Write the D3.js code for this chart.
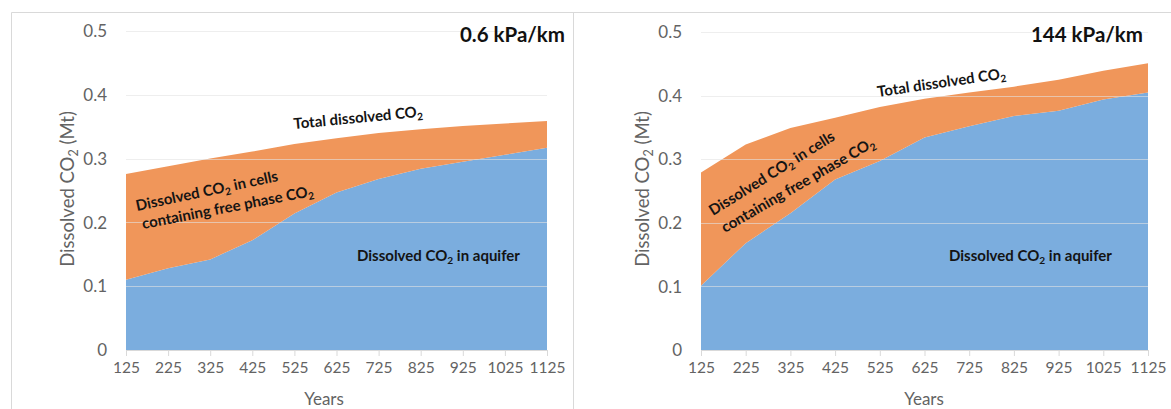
<!DOCTYPE html>
<html>
<head>
<meta charset="utf-8">
<script src="https://cdn.jsdelivr.net/npm/d3@7"></script>
<style>
  html, body { margin: 0; padding: 0; background: #fff; }
  svg { display: block; }
  text { font-family: Lato, "Open Sans", sans-serif; }
</style>
</head>
<body>
<svg id="chart" width="1171" height="409"></svg>
<script>
// Simulation years (x categories)
const years = [125, 225, 325, 425, 525, 625, 725, 825, 925, 1025, 1125];

// 0.6 kPa/km gradient: dissolved CO2 (Mt)
const aquiferLow = [0.110, 0.128, 0.142, 0.172, 0.214, 0.247, 0.268, 0.284, 0.295, 0.306, 0.317];
const totalLow   = [0.276, 0.288, 0.300, 0.311, 0.323, 0.332, 0.340, 0.346, 0.351, 0.355, 0.359];

// 144 kPa/km gradient: dissolved CO2 (Mt)
const aquiferHigh = [0.101, 0.168, 0.215, 0.268, 0.297, 0.334, 0.352, 0.368, 0.376, 0.394, 0.405];
const totalHigh   = [0.279, 0.323, 0.349, 0.365, 0.382, 0.395, 0.405, 0.414, 0.425, 0.439, 0.451];

// Axis ticks and labels
const yTicks = [0, 0.1, 0.2, 0.3, 0.4, 0.5];
const yTickLabels = ["0", "0.1", "0.2", "0.3", "0.4", "0.5"];
const xTickLabels = ["125", "225", "325", "425", "525", "625", "725", "825", "925", "1025", "1125"];
const panelTitles = ["0.6 kPa/km", "144 kPa/km"];
const xTitle = "Years";

const BLUE = "#7badde";
const ORANGE = "#f0965a";
const GRID = "#e3e3e3";
const AXIS_TEXT = "#636363";

const svg = d3.select("#chart");

// Outer frame lines of the two chart boxes
const frame = svg.append("g").attr("stroke", "#d9d9d9").attr("stroke-width", 1).attr("fill", "none");
frame.append("path").attr("d", "M11.5,409 V12.5 H1171");
frame.append("path").attr("d", "M573.5,12.5 V409");

// Append text with "2" subscripts written as {2}
function richText(g, str, size) {
  const t = g.append("text").attr("font-size", size);
  const parts = str.split(/(\{2\})/);
  let sub = false;
  parts.forEach(p => {
    if (p === "") return;
    if (p === "{2}") {
      t.append("tspan").attr("font-size", size * 0.68).attr("dy", size * 0.22).text("2");
      sub = true;
    } else {
      const ts = t.append("tspan").text(p);
      if (sub) { ts.attr("dy", -size * 0.22); sub = false; }
    }
  });
  return t;
}

const panels = [
  {
    aquifer: aquiferLow, total: totalLow, title: panelTitles[0],
    x0: 126, x1: 547, y0: 350, y1: 31, titleX: 565, yTitleX: 68, xTitleX: 324,
    labels: [
      { text: "Total dissolved CO{2}", x: 294, y: 129, a: -5.5 },
      { text: "Dissolved CO{2} in cells", x: 137, y: 211, a: -12 },
      { text: "containing free phase CO{2}", x: 143, y: 229, a: -11 },
      { text: "Dissolved CO{2} in aquifer", x: 357, y: 261, a: 0 }
    ]
  },
  {
    aquifer: aquiferHigh, total: totalHigh, title: panelTitles[1],
    x0: 701, x1: 1148, y0: 350, y1: 32, titleX: 1143, yTitleX: 643, xTitleX: 924,
    labels: [
      { text: "Total dissolved CO{2}", x: 878, y: 97, a: -8.3 },
      { text: "Dissolved CO{2} in cells", x: 713, y: 216, a: -32 },
      { text: "containing free phase CO{2}", x: 725, y: 233, a: -30 },
      { text: "Dissolved CO{2} in aquifer", x: 949, y: 261, a: 0 }
    ]
  }
];

panels.forEach(p => {
  const x = d3.scaleLinear().domain([years[0], years[years.length - 1]]).range([p.x0, p.x1]);
  const y = d3.scaleLinear().domain([0, 0.5]).range([p.y0, p.y1]);
  const g = svg.append("g");

  // Stacked areas: aquifer at the bottom, free-phase cells up to the total
  const rows = years.map((yr, i) => ({ yr, a: p.aquifer[i], t: p.total[i] }));
  g.append("path")
    .datum(rows)
    .attr("fill", BLUE)
    .attr("d", d3.area().x(d => x(d.yr)).y0(y(0)).y1(d => y(d.a)));
  g.append("path")
    .datum(rows)
    .attr("fill", ORANGE)
    .attr("d", d3.area().x(d => x(d.yr)).y0(d => y(d.a)).y1(d => y(d.t)));

  // Horizontal gridlines (faint over the fills)
  g.append("g")
    .selectAll("line")
    .data(yTicks.slice(1))
    .join("line")
    .attr("x1", p.x0).attr("x2", p.x1)
    .attr("y1", d => Math.round(y(d)) + 0.5).attr("y2", d => Math.round(y(d)) + 0.5)
    .attr("stroke", GRID).attr("stroke-opacity", 0.6);

  // Y tick labels
  g.append("g")
    .selectAll("text")
    .data(yTicks)
    .join("text")
    .attr("x", p.x0 - 19)
    .attr("y", d => y(d))
    .attr("dy", "0.36em")
    .attr("text-anchor", "end")
    .attr("font-size", 17)
    .attr("fill", AXIS_TEXT)
    .text((d, i) => yTickLabels[i]);

  // X axis
  const xAxis = d3.axisBottom(x)
    .tickValues(years)
    .tickSize(6)
    .tickPadding(6)
    .tickFormat((d, i) => xTickLabels[i]);
  const ax = g.append("g").attr("transform", `translate(0,${p.y0})`).call(xAxis);
  ax.select(".domain").attr("stroke", "#d9d9d9");
  ax.selectAll(".tick line").attr("stroke", "#d9d9d9");
  ax.selectAll(".tick text")
    .attr("font-family", "Lato, 'Open Sans', sans-serif")
    .attr("font-size", 15.5)
    .attr("fill", AXIS_TEXT);

  // Axis titles
  g.append("text")
    .attr("x", p.xTitleX).attr("y", 405)
    .attr("text-anchor", "middle")
    .attr("font-size", 17)
    .attr("fill", AXIS_TEXT)
    .text(xTitle);

  richText(g, "Dissolved CO{2} (Mt)", 18.5)
    .attr("fill", AXIS_TEXT)
    .attr("text-anchor", "middle")
    .attr("transform", `translate(${p.yTitleX + 6},189) rotate(-90)`);

  // Panel title
  g.append("text")
    .attr("x", p.titleX).attr("y", 42)
    .attr("text-anchor", "end")
    .attr("font-size", 20.5)
    .attr("font-weight", 700)
    .attr("fill", "#111")
    .text(p.title);

  // Region annotations
  p.labels.forEach(l => {
    richText(g, l.text, 15)
      .attr("font-weight", 700)
      .attr("fill", "#141414")
      .attr("transform", `translate(${l.x},${l.y}) rotate(${l.a})`);
  });
});
</script>
</body>
</html>
